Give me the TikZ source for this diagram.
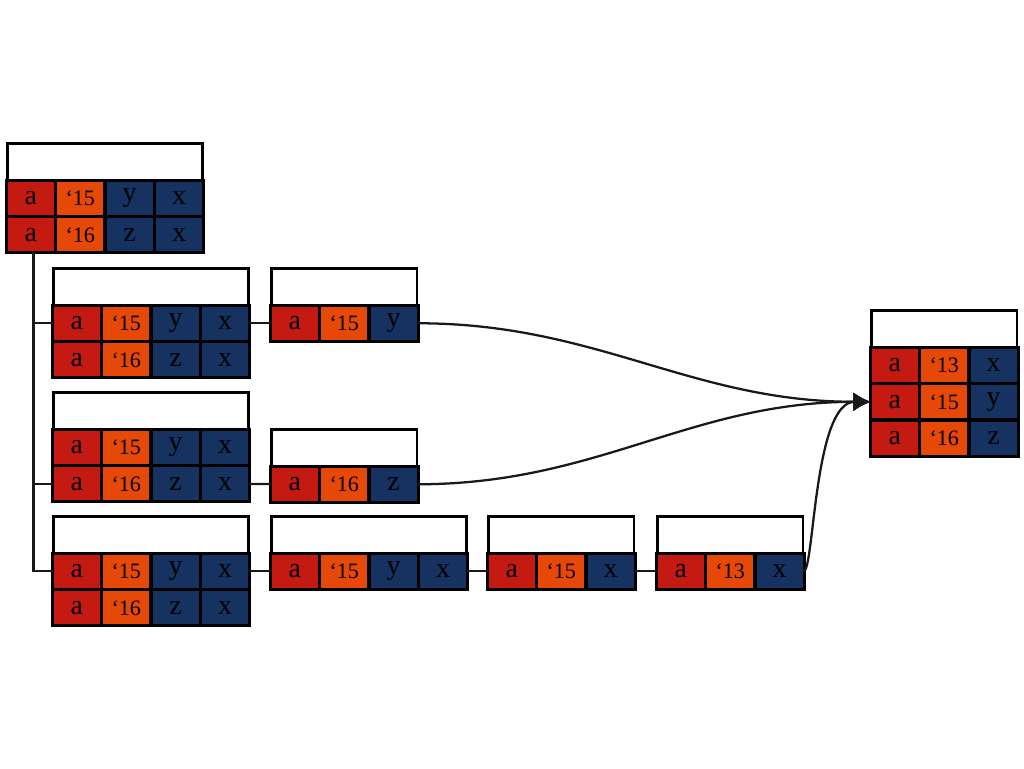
\documentclass[tikz,border=0pt]{standalone}
\usepackage{fontspec}
\setmainfont{Liberation Serif}
\usepackage{xcolor}
\usepackage{tikz}
\usetikzlibrary{positioning}
\usetikzlibrary{matrix,arrows.meta}

\definecolor{cellred}{RGB}{196,26,18}
\definecolor{cellorange}{RGB}{230,72,8}
\definecolor{cellblue}{RGB}{22,50,96}

\tikzset{
	cell/.style={draw=black, line width=1.2pt, minimum width=35.9pt, minimum height=26.2pt,
		inner sep=0pt, outer sep=0pt, anchor=center, font=\fontsize{21}{21}\selectfont},
	tbl/.style={matrix of nodes, inner sep=0pt, outer sep=0pt, draw=black, line width=2pt,
		column sep=0pt, row sep=0pt, anchor=north west, nodes={cell},
		column 1/.style={nodes={fill=cellred}},
		column 2/.style={nodes={fill=cellorange, font=\fontsize{16.5}{16.5}\selectfont}},
		column 3/.style={nodes={fill=cellblue}},
		column 4/.style={nodes={fill=cellblue}}},
	hdr/.style={draw=black, line width=2pt, fill=white, minimum width=#1,
		minimum height=27.2pt, inner sep=0pt, outer sep=0pt},
	branch/.style={draw=black!90, line width=1.7pt},
	flow/.style={draw=black!90, line width=1.7pt, -{Latex[length=13pt,width=14pt]}}
}

\begin{document}
\begin{tikzpicture}[x=0.75pt,y=-0.75pt]
	\useasboundingbox (0,0) rectangle (1024,768);
	% source
	\matrix[tbl] (src) at (6,180) {a & ‘15 & y & x\\ a & ‘16 & z & x\\};
	\node[hdr=146.4pt, above=0pt of src] (srchead) {};
	% tree children
	\matrix[tbl] (t1) at (52,305) {a & ‘15 & y & x\\ a & ‘16 & z & x\\};
	\node[hdr=146.4pt, above=0pt of t1] (t1head) {};
	\matrix[tbl] (t2) at (52,429) {a & ‘15 & y & x\\ a & ‘16 & z & x\\};
	\node[hdr=146.4pt, above=0pt of t2] (t2head) {};
	\matrix[tbl] (t3) at (52,553) {a & ‘15 & y & x\\ a & ‘16 & z & x\\};
	\node[hdr=146.4pt, above=0pt of t3] (t3head) {};
	% selections
	\matrix[tbl] (s1) at (270,305) {a & ‘15 & y\\};
	\node[hdr=109.3pt, above=0pt of s1] (s1head) {};
	\matrix[tbl] (s2) at (270,466) {a & ‘16 & z\\};
	\node[hdr=109.3pt, above=0pt of s2] (s2head) {};
	\matrix[tbl] (b1) at (270,553) {a & ‘15 & y & x\\};
	\node[hdr=146.4pt, above=0pt of b1] (b1head) {};
	\matrix[tbl] (b2) at (487,553) {a & ‘15 & x\\};
	\node[hdr=109.3pt, above=0pt of b2] (b2head) {};
	\matrix[tbl] (b3) at (656,553) {a & ‘13 & x\\};
	\node[hdr=109.3pt, above=0pt of b3] (b3head) {};
	% result
	\matrix[tbl] (res) at (870,347) {a & ‘13 & x\\ a & ‘15 & y\\ a & ‘16 & z\\};
	\node[hdr=109.3pt, above=0pt of res] (reshead) {};

	\draw[branch] ([xshift=2pt]src-2-1.south) |- (t1-1-1.west);
	\draw[branch] ([xshift=2pt]src-2-1.south) |- (t2-2-1.west);
	\draw[branch] ([xshift=2pt]src-2-1.south) |- (t3-1-1.west);

	\draw[branch] (t1-1-4) -- (s1-1-1);
	\draw[branch] (t2-2-4) -- (s2-1-1);
	\draw[branch] (t3-1-4) -- (b1-1-1);
	\draw[branch] (b1-1-4) -- (b2-1-1);
	\draw[branch] (b2-1-3) -- (b3-1-1);

	\draw[flow] (s1-1-3.east) to[out=0,in=180] (res-2-1.west);
	\draw[flow] (s2-1-3.east) to[out=0,in=180] (res-2-1.west);
	\draw[flow] (b3-1-3.east) to[out=0,in=180,out looseness=0.15,in looseness=0.8] (res-2-1.west);
\end{tikzpicture}
\end{document}
